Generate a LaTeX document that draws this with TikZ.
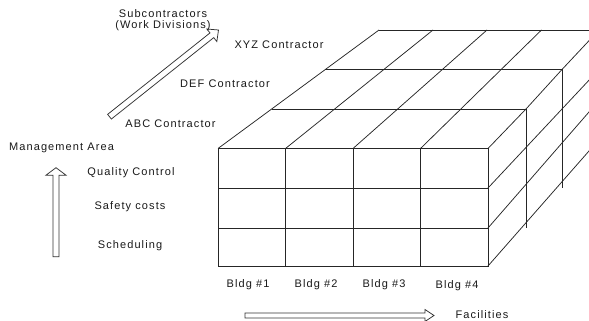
\documentclass[tikz,border=0pt]{standalone}
\usepackage{fontspec}
\setmainfont{Liberation Sans}[LetterSpace=10]
\begin{document}
\begin{tikzpicture}[x=1pt,y=-1pt,
  lbl/.style={inner sep=0pt, font=\fontsize{11}{13}\selectfont, text=black!90},
  gridline/.style={line width=0.75pt, draw=black!85},
  blockarrow/.style={line width=0.75pt, draw=black!80, fill=white}]
\useasboundingbox (0,0) rectangle (589,321);
\clip (0,0) rectangle (589,321);
% front face
\draw[gridline] (218,148.5) rectangle (488,266);
\foreach \x in {285.5,353,420.5} \draw[gridline] (\x,148.5) -- (\x,266);
\foreach \y in {188,228} \draw[gridline] (218,\y) -- (488,\y);
% top face horizontals
\draw[gridline] (271.7,109) -- (526,109);
\draw[gridline] (325.3,69.5) -- (562,69.5);
\draw[gridline] (379,30) -- (620,30);
% top face diagonals
\draw[gridline] (218,148.5) -- (379,30);
\draw[gridline] (285.5,148.5) -- (433,30);
\draw[gridline] (353,148.5) -- (487,30);
\draw[gridline] (420.5,148.5) -- (541.5,30);
\draw[gridline] (488,148.5) -- (526,109) -- (562,69.5) -- (599,30);
% right face
\draw[gridline] (526,109) -- (526,228);
\draw[gridline] (562,69.5) -- (562,188);
\draw[gridline] (488,188) -- (599,69.5);
\draw[gridline] (488,228) -- (599,100.5);
\draw[gridline] (488,266) -- (599,139.6);
% block arrows
\draw[blockarrow, shift={(109.5,116.7)}, rotate=38.5]
  (0,-3) -- (130.8,-3) -- (130.8,-8) -- (139.3,0) -- (130.8,8) -- (130.8,3) -- (0,3) -- cycle;
\draw[blockarrow, shift={(56,256.7)}, rotate=90]
  (0,-3) -- (81.5,-3) -- (81.5,-10) -- (89,0) -- (81.5,10) -- (81.5,3) -- (0,3) -- cycle;
\draw[blockarrow, shift={(245,315.5)}]
  (0,-2.6) -- (180,-2.6) -- (180,-6) -- (189,0) -- (180,6) -- (180,2.6) -- (0,2.6) -- cycle;
% labels
\node[lbl] (sub1) at (163,14) {Subcontractors};
\node[lbl] (sub2) at (163,26) {(Work Divisions)};
\node[lbl] (xyz) at (279,45) {XYZ Contractor};
\node[lbl] (def) at (225,84) {DEF Contractor};
\node[lbl] (abc) at (170.5,123.5) {ABC Contractor};
\node[lbl] (mgmt) at (61.5,147.5) {Management Area};
\node[lbl] (qc) at (131,172.5) {Quality Control};
\node[lbl] (safe) at (130,207) {Safety costs};
\node[lbl] (sched) at (130,246) {Scheduling};
\node[lbl] (b1) at (248,285) {Bldg \#1};
\node[lbl] (b2) at (316,285) {Bldg \#2};
\node[lbl] (b3) at (384,285) {Bldg \#3};
\node[lbl] (b4) at (457,285.5) {Bldg \#4};
\node[lbl] (fac) at (482,315) {Facilities};
\end{tikzpicture}
\end{document}
